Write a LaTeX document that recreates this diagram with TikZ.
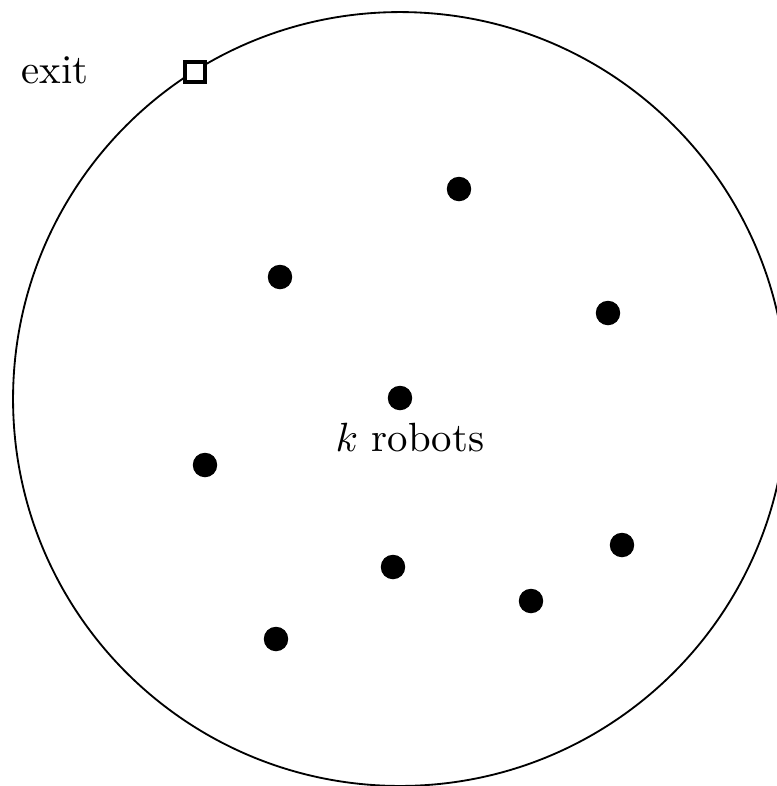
\documentclass[tikz,border=0pt]{standalone}
\usepackage{amsmath,amssymb}
\usepackage{xcolor}
\usepackage{tikz}
\usetikzlibrary{positioning, calc}
\tikzset{
  robot/.style={circle, fill=black, inner sep=0pt, minimum size=6pt},
  salida/.style={draw, line width=0.85pt, fill=white, inner sep=0pt, minimum size=5pt}
}

\begin{document}
\begin{tikzpicture}[x=0.245pt, y=-0.245pt]
        \useasboundingbox (0,0) rectangle (777,786);
        \clip (0,0) rectangle (777,786);
        \coordinate (centro) at (400,399);
        \draw[line width=0.45pt] (centro) circle[radius=94.8pt];
        \foreach \px/\py [count=\i] in {459/189, 280/277, 608/313, 400/398, 205/465,
                                        622/545, 393/567, 531/601, 276/639} {
          \node[robot] (r\i) at (\px,\py) {};
        }
        \node (etiqueta) at (410,438) {$k$ robots};
        \node[salida] (exit) at (195,72) {};
        \node (exitlabel) at (55,70) {exit};
      \end{tikzpicture}
\end{document}
